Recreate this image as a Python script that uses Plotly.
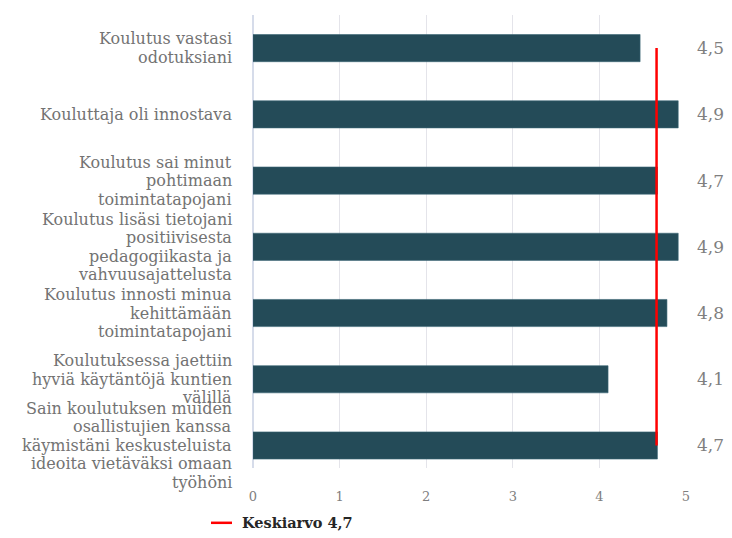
import plotly.graph_objects as go

categories = [
    "Koulutus vastasi<br>odotuksiani",
    "Kouluttaja oli innostava",
    "Koulutus sai minut<br>pohtimaan<br>toimintatapojani",
    "Koulutus lisäsi tietojani<br>positiivisesta<br>pedagogiikasta ja<br>vahvuusajattelusta",
    "Koulutus innosti minua<br>kehittämään<br>toimintatapojani",
    "Koulutuksessa jaettiin<br>hyviä käytäntöjä kuntien<br>välillä",
    "Sain koulutuksen muiden<br>osallistujien kanssa<br>käymistäni keskusteluista<br>ideoita vietäväksi omaan<br>työhöni",
]
values = [4.47, 4.91, 4.67, 4.91, 4.78, 4.10, 4.67]
value_labels = ["4,5", "4,9", "4,7", "4,9", "4,8", "4,1", "4,7"]
mean_value = 4.66
mean_name = "Keskiarvo 4,7"
x_ticks = [0, 1, 2, 3, 4, 5]

serif = "DejaVu Serif, Liberation Serif, serif"
bar_color = "#244B58"
label_color = "#737373"
line_step = 18.5  # px between wrapped lines of a category label

fig = go.Figure()
fig.add_trace(go.Bar(
    y=categories, x=values, orientation="h",
    marker=dict(color=bar_color, line=dict(color="#3B6676", width=0.6)),
    width=0.41, showlegend=False, hoverinfo="x",
))
fig.add_trace(go.Scatter(
    x=[mean_value, mean_value], y=[categories[0], categories[-1]],
    mode="lines", line=dict(color="#FF0000", width=2.5),
    name=mean_name, showlegend=False,
))

# category labels (one annotation per wrapped line, tighter line spacing)
for c in categories:
    lines = c.split("<br>")
    n = len(lines)
    for j, ln in enumerate(lines):
        fig.add_annotation(x=0, xref="paper", y=c, yref="y", text=ln,
                           showarrow=False, xanchor="right", yanchor="middle",
                           xshift=-19, yshift=((n - 1) / 2 - j) * line_step,
                           font=dict(family=serif, size=16, color=label_color))

# value labels on the right
for c, lab in zip(categories, value_labels):
    fig.add_annotation(x=1, y=c, xref="paper", yref="y", text=lab,
                       showarrow=False, xanchor="left", xshift=9,
                       font=dict(family=serif, size=17, color="#7F7F7F"))

# manual legend
fig.add_shape(type="line", xref="paper", yref="paper",
              x0=-0.097, x1=-0.0485, y0=-0.121, y1=-0.121,
              line=dict(color="#FF0000", width=2.5))
fig.add_annotation(x=-0.030, y=-0.121, xref="paper", yref="paper",
                   text="<b>" + mean_name + "</b>", showarrow=False,
                   xanchor="left", yanchor="middle",
                   font=dict(family=serif, size=14.5, color="#262626"))

fig.update_layout(
    width=724, height=530,
    margin=dict(l=245, r=46, t=7, b=70),
    paper_bgcolor="white", plot_bgcolor="white",
    xaxis=dict(range=[0, 5], tickvals=x_ticks, ticktext=[str(t) for t in x_ticks],
               automargin=False,
               showgrid=True, gridcolor="#E4E4EA", gridwidth=1.3,
               zeroline=True, zerolinecolor="#D6DCEA", zerolinewidth=1.5,
               showline=False, ticks="outside", ticklen=16,
               tickcolor="rgba(0,0,0,0)",
               tickfont=dict(family=serif, size=13, color="#7F7F7F")),
    yaxis=dict(categoryorder="array", categoryarray=categories,
               automargin=False, showticklabels=False,
               range=[6.34, -0.5], showgrid=False, zeroline=False,
               showline=False, ticks=""),
    font=dict(family=serif),
)

fig.write_html("out.html")
